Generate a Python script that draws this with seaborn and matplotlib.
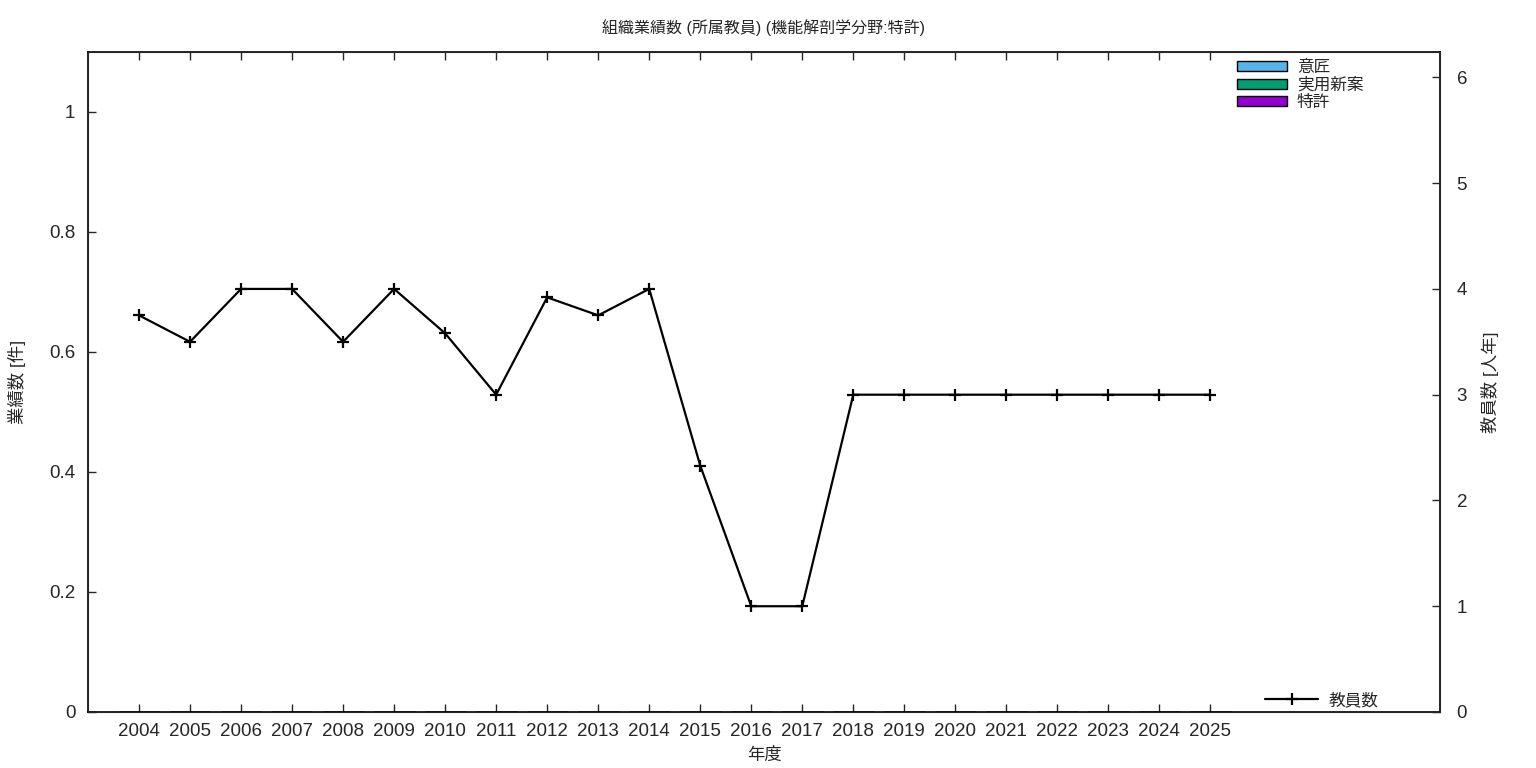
import matplotlib
matplotlib.use('Agg')
import matplotlib.pyplot as plt
from matplotlib.patches import Patch
from matplotlib.lines import Line2D
import seaborn as sns
import pandas as pd

# data
years = list(range(2004, 2026))
staff = [3.75, 3.5, 4.0, 4.0, 3.5, 4.0, 3.58, 3.0, 3.92, 3.75, 4.0,
         2.33, 1.0, 1.0, 3.0, 3.0, 3.0, 3.0, 3.0, 3.0, 3.0, 3.0]
design = [0] * len(years)
utility = [0] * len(years)
patent = [0] * len(years)

series_names = ['意匠', '実用新案', '特許']
series_colors = ['#56B4E9', '#009E73', '#9400D3']

sns.set_style('ticks')
plt.rcParams['font.family'] = ['Liberation Sans', 'Noto Sans CJK JP', 'DejaVu Sans']

df = pd.DataFrame({'year': years, 'staff': staff, 'design': design,
                   'utility': utility, 'patent': patent})

fig = plt.figure(figsize=(15.36, 7.68), dpi=100)
ax = fig.add_axes([88 / 1536, 1 - 712 / 768, (1440 - 88) / 1536, (712 - 52) / 768])

# stacked bars (all zero here)
sns.barplot(data=df, x='year', y='patent', native_scale=True, color=series_colors[2],
            edgecolor='black', linewidth=1, width=0.8, ax=ax)
sns.barplot(data=df, x='year', y='utility', native_scale=True, color=series_colors[1],
            edgecolor='black', linewidth=1, width=0.8, ax=ax)
sns.barplot(data=df, x='year', y='design', native_scale=True, color=series_colors[0],
            edgecolor='black', linewidth=1, width=0.8, ax=ax)

ax.set_xlim(2003, 2029.5)
ax.set_ylim(0, 1.1)
ax.set_xticks(years)
ax.set_xticklabels([str(y) for y in years], fontsize=13.5)
ax.set_yticks([0, 0.2, 0.4, 0.6, 0.8, 1.0])
ax.set_yticklabels(['0', '0.2', '0.4', '0.6', '0.8', '1'], fontsize=13.5)
ax.tick_params(axis='x', direction='in', length=6, width=1, top=True, pad=8)
ax.tick_params(axis='y', direction='in', length=6, width=1, right=False, pad=9)
ax.set_xlabel('年度', fontsize=12.5, labelpad=5)
ax.set_ylabel('業績数 [件]', fontsize=12.5, labelpad=17)
for s in ax.spines.values():
    s.set_linewidth(1.2)
    s.set_color('black')

ax2 = ax.twinx()
sns.lineplot(data=df, x='year', y='staff', ax=ax2, color='black', linewidth=1.6,
             marker='+', markersize=8, markeredgewidth=1.6, markeredgecolor='black')
ax2.set_ylim(0, 6.24)
ax2.set_yticks(range(0, 7))
ax2.set_yticklabels([str(i) for i in range(0, 7)], fontsize=13.5)
ax2.tick_params(axis='y', direction='in', length=6, width=1, pad=12)
ax2.set_ylabel('教員数 [人年]', fontsize=12.5, labelpad=10)
ax.set_xlim(2003, 2029.5)

ax.set_title('組織業績数 (所属教員) (機能解剖学分野:特許)', fontsize=11.5, pad=14)

bar_handles = [Patch(facecolor=c, edgecolor='black', linewidth=1) for c in series_colors]
leg1 = ax2.legend(bar_handles, series_names, loc='upper right', bbox_to_anchor=(0.952, 1.005),
                  frameon=False, fontsize=12, handlelength=3.0, handleheight=0.55,
                  labelspacing=0.12, handletextpad=0.6, borderaxespad=0.3)
ax2.add_artist(leg1)
line_handle = Line2D([], [], color='black', linewidth=1.6, marker='+', markersize=8,
                     markeredgewidth=1.6)
ax2.legend([line_handle], ['教員数'], loc='lower right', bbox_to_anchor=(0.963, -0.012),
           frameon=False, fontsize=12, handlelength=3.2, handletextpad=0.6,
           borderaxespad=0.3)

fig.savefig('out.png', dpi=100)
